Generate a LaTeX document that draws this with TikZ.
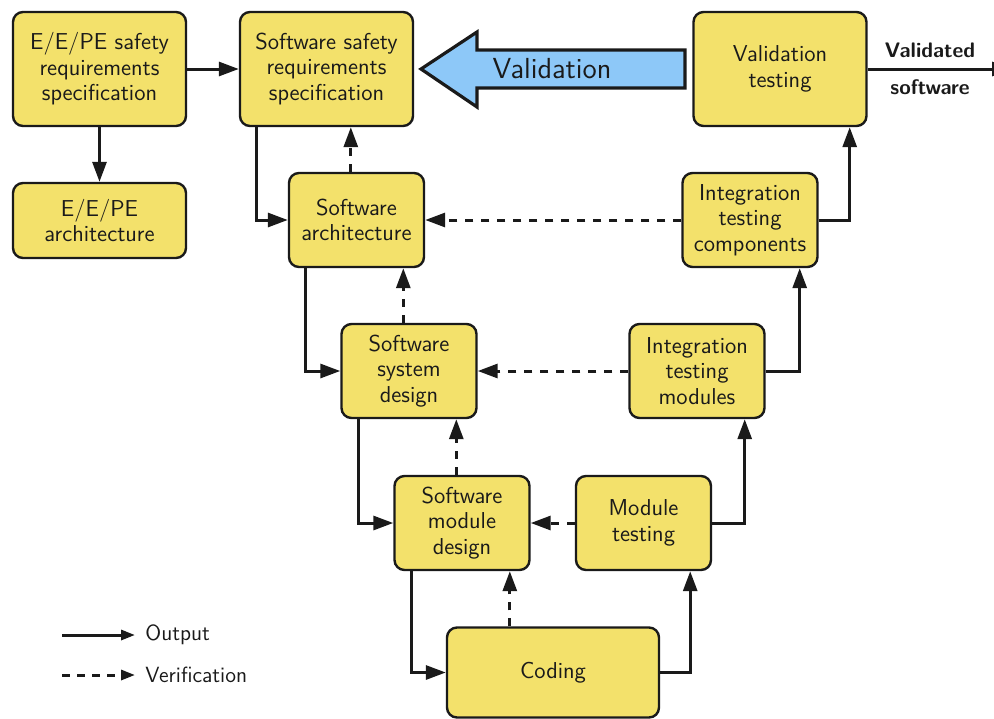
\documentclass[tikz,border=0pt]{standalone}
\usepackage{tikz}
\usetikzlibrary{positioning,arrows.meta,calc}
\renewcommand{\familydefault}{\sfdefault}
\definecolor{ink}{HTML}{1A1A1A}
\definecolor{boxfill}{HTML}{F3E16B}
\definecolor{valblue}{HTML}{8DC8F8}

\begin{document}
\begin{tikzpicture}[x=0.5pt,y=-0.5pt,
  box/.style={draw=ink,line width=1.2pt,fill=boxfill,rounded corners=5pt,align=center,text=ink,
    font=\fontsize{11.5}{12.8}\selectfont,minimum width=67.5pt,minimum height=47pt,inner sep=2pt},
  bigbox/.style={box,minimum width=86.5pt,minimum height=57pt},
  outarr/.style={draw=ink,line width=1.5pt,-{Triangle[length=10pt,width=7pt]}},
  verarr/.style={outarr,dash pattern=on 4pt off 4pt},
  legarr/.style={draw=ink,line width=1.5pt,-{Triangle[length=7pt,width=5pt]}},
  leglabel/.style={anchor=west,inner sep=0pt,text=ink,font=\fontsize{11}{12.5}\selectfont}]
  \useasboundingbox (0,0) rectangle (994,718);
  \node[bigbox] (eesr) at (99.5,69) {E/E/PE safety\\requirements\\specification};
  \node[bigbox,minimum height=37.5pt] (eearch) at (99.5,220.5) {E/E/PE\\architecture};
  \node[bigbox] (swsr) at (326.5,69) {Software safety\\requirements\\specification};
  \node[bigbox] (valt) at (780,69) {Validation\\testing};
  \node[box] (swarch) at (356.5,220) {Software\\architecture};
  \node[box] (itc) at (750,220) {Integration\\testing\\components};
  \node[box] (swsd) at (409,371) {Software\\system\\design};
  \node[box] (itm) at (697,371) {Integration\\testing\\modules};
  \node[box] (swmd) at (462,523) {Software\\module\\design};
  \node[box] (modt) at (643.5,523) {Module\\testing};
  \node[box,minimum width=106pt,minimum height=45pt] (coding) at (553,672.5) {Coding};

  \draw[ink,line width=1.6pt,fill=valblue] (685,50) -- (477,50) -- (477,32) -- (421,69) -- (477,107) -- (477,88) -- (685,88) -- cycle;
  \node[text=ink,font=\fontsize{14.5}{17}\selectfont] (valtext) at (552,69) {Validation};

  \node[text=ink,font=\bfseries\fontsize{10.5}{12}\selectfont] (vlab) at (930,50) {Validated};
  \node[text=ink,font=\bfseries\fontsize{10.5}{12}\selectfont] (slab) at (930,87) {software};
  \coordinate (outend) at (1012,69);
  \draw[outarr] (valt.east) -- (outend);

  \draw[outarr] (eesr) -- (swsr); \draw[outarr] (eesr) -- (eearch);
  \draw[outarr] ([xshift=9pt]swsr.south west) |- (swarch.west);
  \draw[verarr] ([xshift=31.5pt]swarch.north west) -- ([xshift=31.5pt]swarch.north west |- swsr.south);
  \draw[verarr] (itc) -- (swarch);
  \draw[outarr] (itc.east) -| ([xshift=-9pt]valt.south east);
  \draw[outarr] ([xshift=9pt]swarch.south west) |- (swsd.west);
  \draw[verarr] ([xshift=31.5pt]swsd.north west) -- ([xshift=31.5pt]swsd.north west |- swarch.south);
  \draw[verarr] (itm) -- (swsd);
  \draw[outarr] (itm.east) -| ([xshift=-9.5pt]itc.south east);
  \draw[outarr] ([xshift=9pt]swsd.south west) |- (swmd.west);
  \draw[verarr] ([xshift=31.5pt]swmd.north west) -- ([xshift=31.5pt]swmd.north west |- swsd.south);
  \draw[verarr] (modt) -- (swmd);
  \draw[outarr] (modt.east) -| ([xshift=-10.5pt]itm.south east);
  \draw[outarr] ([xshift=9pt]swmd.south west) |- (coding.west);
  \draw[verarr] ([xshift=32pt]coding.north west) -- ([xshift=32pt]coding.north west |- swmd.south);
  \draw[outarr] (coding.east) -| ([xshift=-11pt]modt.south east);

  \node[leglabel] (outlab) at (145,635) {Output};
  \node[leglabel] (verlab) at (145,675) {Verification};
  \draw[legarr] ([xshift=-41.5pt]outlab.west) -- ([xshift=-5pt]outlab.west);
  \draw[legarr,dash pattern=on 4pt off 3.5pt] ([xshift=-41.5pt]verlab.west) -- ([xshift=-5pt]verlab.west);
\end{tikzpicture}
\end{document}
